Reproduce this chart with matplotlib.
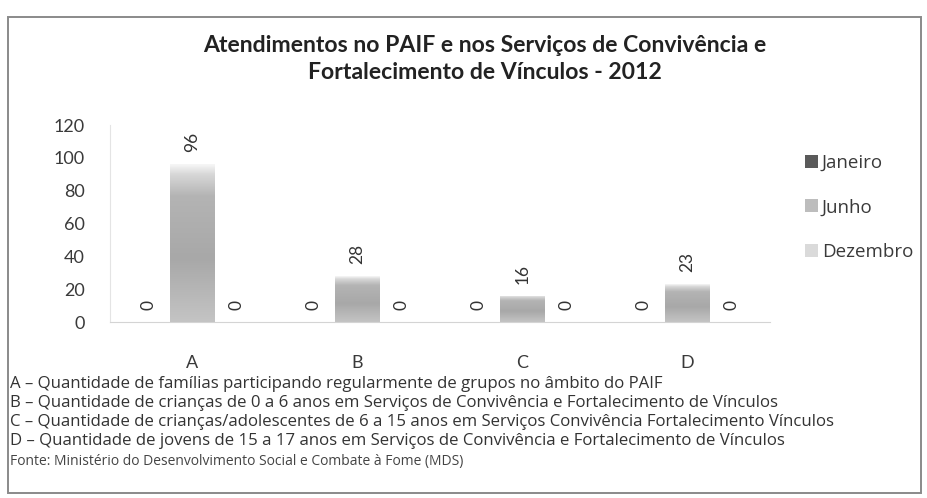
import matplotlib
matplotlib.use("Agg")
import matplotlib.pyplot as plt
import numpy as np
from matplotlib.patches import Rectangle
from matplotlib.colors import LinearSegmentedColormap

plt.rcParams['font.family'] = ['Lato', 'DejaVu Sans']

categories = ["A", "B", "C", "D"]
series_names = ["Janeiro", "Junho", "Dezembro"]
janeiro = [0, 0, 0, 0]
junho = [96, 28, 16, 23]
dezembro = [0, 0, 0, 0]
yticks = [0, 20, 40, 60, 80, 100, 120]

title = "Atendimentos no PAIF e nos Serviços de Convivência e\nFortalecimento de Vínculos - 2012"
notes = [
    "A – Quantidade de famílias participando regularmente de grupos no âmbito do PAIF",
    "B – Quantidade de crianças de 0 a 6 anos em Serviços de Convivência e Fortalecimento de Vínculos",
    "C – Quantidade de crianças/adolescentes de 6 a 15 anos em Serviços Convivência Fortalecimento Vínculos",
    "D – Quantidade de jovens de 15 a 17 anos em Serviços de Convivência e Fortalecimento de Vínculos",
]
source = "Fonte: Ministério do Desenvolvimento Social e Combate à Fome (MDS)"

W, H = 928, 498
fig = plt.figure(figsize=(W/100, H/100), dpi=100)
fig.patch.set_facecolor("white")

# chart border
fig.patches.append(Rectangle((8/W, 1-493/H), (921-8)/W, (493-17)/H, transform=fig.transFigure,
                             fill=False, edgecolor="#8a8a8a", linewidth=1.4))

ax = fig.add_axes([110/W, 1-322/H, 660/W, (322-125)/H])
series = [janeiro, junho, dezembro]
colors = ["#5a5a5a", "#bdbdbd", "#dadada"]
bw = 0.267
offsets = [-bw, 0, bw]
x = np.arange(len(categories))
grad_cmap = LinearSegmentedColormap.from_list(
    "g", [(0.0, "#f6f6f6"), (0.06, "#d8d8d8"), (0.2, "#b4b4b4"), (0.6, "#a8a8a8"), (1.0, "#c4c4c4")])
containers = []
for s, vals, col, off in zip(series_names, series, colors, offsets):
    bars = ax.bar(x + off, vals, bw, color=col, label=s, zorder=2)
    containers.append(bars)
    for b, v in zip(bars, vals):
        if v > 0:
            grad = np.linspace(0, 1, 200).reshape(-1, 1)
            im = ax.imshow(grad, cmap=grad_cmap, aspect="auto", zorder=3,
                           extent=[b.get_x(), b.get_x() + b.get_width(), 0, b.get_height()],
                           interpolation="bilinear")
            im.set_clip_path(b)
        ax.annotate(f"{v}", (b.get_x() + b.get_width()/2, v), xytext=(0, 12),
                    textcoords="offset pixels", rotation=90, ha="center", va="bottom",
                    fontsize=12.5, color="#333333")

ax.set_xlim(-0.5, len(categories) - 0.5)
ax.set_ylim(0, 120)
ax.set_yticks(yticks)
ax.set_xticks(x)
ax.set_xticklabels(categories)
ax.tick_params(axis="y", length=0, pad=18, labelsize=13, labelcolor="#3a3a3a")
ax.tick_params(axis="x", length=0, pad=24, labelsize=13, labelcolor="#3a3a3a")
for sp in ["top", "right"]:
    ax.spines[sp].set_visible(False)
ax.spines["left"].set_color("#e4e4e4")
ax.spines["bottom"].set_color("#d4d4d4")
ax.set_facecolor("none")

fig.text(485/W, 1-59/H, title, ha="center", va="center", fontsize=16.6, fontweight="bold",
         color="#222222", linespacing=1.33)

leg = fig.legend(handles=containers, labels=series_names, loc="upper left",
                 bbox_to_anchor=(788/W, 1-137/H), frameon=False,
                 prop={"family": "Open Sans", "size": 13.5},
                 handlelength=0.7, handleheight=0.7, handletextpad=0.2, labelspacing=1.42,
                 labelcolor="#3a3a3a")

ys = [384, 403, 422, 441]
for yy, t in zip(ys, notes):
    fig.text(10/W, 1-yy/H, t, ha="left", va="center", fontsize=12.1, color="#333333",
             family="Open Sans")
fig.text(10/W, 1-461/H, source, ha="left", va="center", fontsize=10, color="#444444",
         family="Open Sans")

fig.savefig("out.png", dpi=100, facecolor="white")
